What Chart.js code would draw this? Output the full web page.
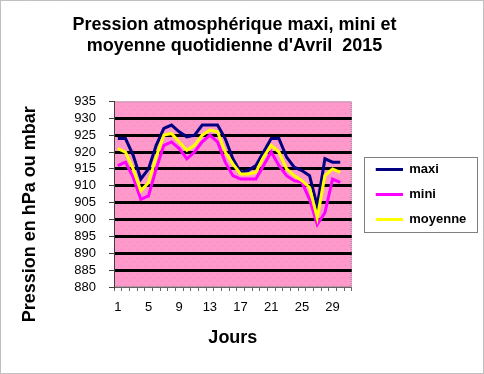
<!DOCTYPE html>
<html>
<head>
<meta charset="utf-8">
<script src="https://cdn.jsdelivr.net/npm/chart.js@4"></script>
<style>
  html, body { margin: 0; padding: 0; background: #fff; }
</style>
</head>
<body>
<canvas id="pression" width="484" height="374"></canvas>
<script>
const jours = ["1","2","3","4","5","6","7","8","9","10","11","12","13","14","15","16",
    "17","18","19","20","21","22","23","24","25","26","27","28","29","30","31"];

const maxi = [924, 924, 919, 912, 915, 922, 927, 928, 926, 924.5, 925, 928, 928, 928, 924,
    918, 914, 914.5, 916, 920, 924, 924, 918.5, 915.5, 914.5, 913, 904, 918, 917, 917];

const mini = [916, 917, 912.5, 906, 907, 915, 922, 923, 921, 918, 920, 923, 925, 923, 917,
    913, 912, 912, 912, 916, 920, 916, 913, 911.5, 911, 906, 898.5, 902, 912, 911];

const moyenne = [921, 920, 915, 908.5, 911, 918.5, 925, 925.5, 923, 920.5, 922, 925, 926.5, 926, 920,
    916.5, 913.5, 913.5, 914, 918.5, 922, 920, 915, 913, 911.5, 909.5, 900.5, 913, 915, 914];

const police = "'Liberation Sans', Arial, sans-serif";

// fond rose a petits points
const motif = document.createElement('canvas');
motif.width = 8; motif.height = 8;
const m = motif.getContext('2d');
m.fillStyle = '#ff99cc';
m.fillRect(0, 0, 8, 8);
m.fillStyle = '#e08ab8';
m.fillRect(1, 1, 1, 1);
m.fillRect(5, 5, 1, 1);

// trait de legende decale de 12px vers la droite
function echantillon(couleur) {
    const c = document.createElement('canvas');
    c.width = 39; c.height = 3;
    const g = c.getContext('2d');
    g.fillStyle = couleur;
    g.fillRect(12, 0, 27, 3);
    return c;
}

const fond = {
    id: 'fond',
    beforeDraw(chart) {
        const ctx = chart.ctx;
        const a = chart.chartArea;
        ctx.save();
        ctx.fillStyle = '#fff';
        ctx.fillRect(0, 0, chart.width, chart.height);
        ctx.strokeStyle = '#808080';
        ctx.setLineDash([1, 1]);
        ctx.lineWidth = 1;
        ctx.strokeRect(0.5, 0.5, chart.width - 1, chart.height - 1);
        ctx.fillStyle = ctx.createPattern(motif, 'repeat');
        ctx.fillRect(a.left, a.top, a.right - a.left, a.bottom - a.top);
        ctx.strokeStyle = '#808080';
        ctx.strokeRect(a.left + 0.5, a.top + 0.5, a.right - a.left - 1, a.bottom - a.top - 1);
        ctx.restore();
    },
    afterDraw(chart) {
        const boxes = chart.legend && chart.legend.legendHitBoxes;
        if (!boxes || !boxes.length) return;
        const ctx = chart.ctx;
        const l = chart.legend.left + 12;
        const r = Math.max(...boxes.map(b => b.left + b.width)) + 10;
        const t = boxes[0].top - 6;
        const b = boxes[boxes.length - 1].top + boxes[boxes.length - 1].height + 6;
        ctx.save();
        ctx.strokeStyle = '#808080';
        ctx.lineWidth = 1;
        ctx.setLineDash([]);
        ctx.strokeRect(Math.round(l) + 0.5, Math.round(t) + 0.5, Math.round(r - l), Math.round(b - t));
        ctx.restore();
    }
};

const pression_chart = new Chart(
    document.getElementById('pression'),
    {
        type: 'line',
        data: {
            labels: jours,
            datasets: [
                { label: 'maxi', data: maxi, borderColor: '#000080', backgroundColor: '#000080',
                  pointStyle: echantillon('#000080'), order: 3 },
                { label: 'mini', data: mini, borderColor: '#ff00ff', backgroundColor: '#ff00ff',
                  pointStyle: echantillon('#ff00ff'), order: 2 },
                { label: 'moyenne', data: moyenne, borderColor: '#ffff00', backgroundColor: '#ffff00',
                  pointStyle: echantillon('#ffff00'), order: 1 }
            ]
        },
        plugins: [fond],
        options: {
            responsive: false,
            animation: false,
            devicePixelRatio: 1,
            elements: {
                line: { borderWidth: 3, tension: 0 },
                point: { radius: 0 }
            },
            layout: { padding: { left: 0, right: 15, top: 0, bottom: 10 } },
            plugins: {
                tooltip: { enabled: false },
                title: {
                    display: true,
                    text: ['Pression atmosphérique maxi, mini et', "moyenne quotidienne d'Avril  2015"],
                    color: '#000',
                    font: { family: police, size: 18, weight: 'bold', lineHeight: 1.15 },
                    padding: { top: 15, bottom: 45 }
                },
                legend: {
                    position: 'right',
                    fullSize: false,
                    labels: {
                        usePointStyle: true,
                        pointStyleWidth: 39,
                        color: '#000',
                        font: { family: police, size: 13, weight: 'bold' },
                        padding: 12,
                        sort: (a, b) => a.datasetIndex - b.datasetIndex
                    }
                }
            },
            scales: {
                x: {
                    type: 'category',
                    offset: true,
                    grid: { offset: true, drawOnChartArea: false, drawTicks: true, tickLength: 4, color: '#666' },
                    border: { color: '#666' },
                    ticks: {
                        autoSkip: false, maxRotation: 0, padding: 9, color: '#000',
                        font: { family: police, size: 13 },
                        callback: (v, i) => i % 4 === 0 ? jours[i] : ''
                    },
                    title: {
                        display: true, text: 'Jours', color: '#000',
                        font: { family: police, size: 18, weight: 'bold' },
                        padding: { top: 0, bottom: 15 }
                    },
                    afterFit(s) { s.height = 77; }
                },
                y: {
                    min: 880, max: 935,
                    ticks: { stepSize: 5, autoSkip: false, padding: 13, color: '#000', font: { family: police, size: 13 } },
                    grid: {
                        color: c => (c.tick && (c.tick.value === 880 || c.tick.value === 935)) ? 'rgba(0,0,0,0)' : '#000',
                        lineWidth: 3,
                        tickColor: '#404040',
                        tickWidth: 1,
                        tickLength: 5
                    },
                    border: { color: '#404040' },
                    title: {
                        display: true,
                        // espaces en fin de texte : le titre est centre plus bas, comme dans Excel
                        text: 'Pression en hPa ou mbar        ',
                        color: '#000',
                        font: { family: police, size: 18, weight: 'bold' },
                        padding: { top: 19, bottom: 10 }
                    },
                    afterFit(s) { s.width = 114; }
                }
            }
        }
    }
);
</script>
</body>
</html>
